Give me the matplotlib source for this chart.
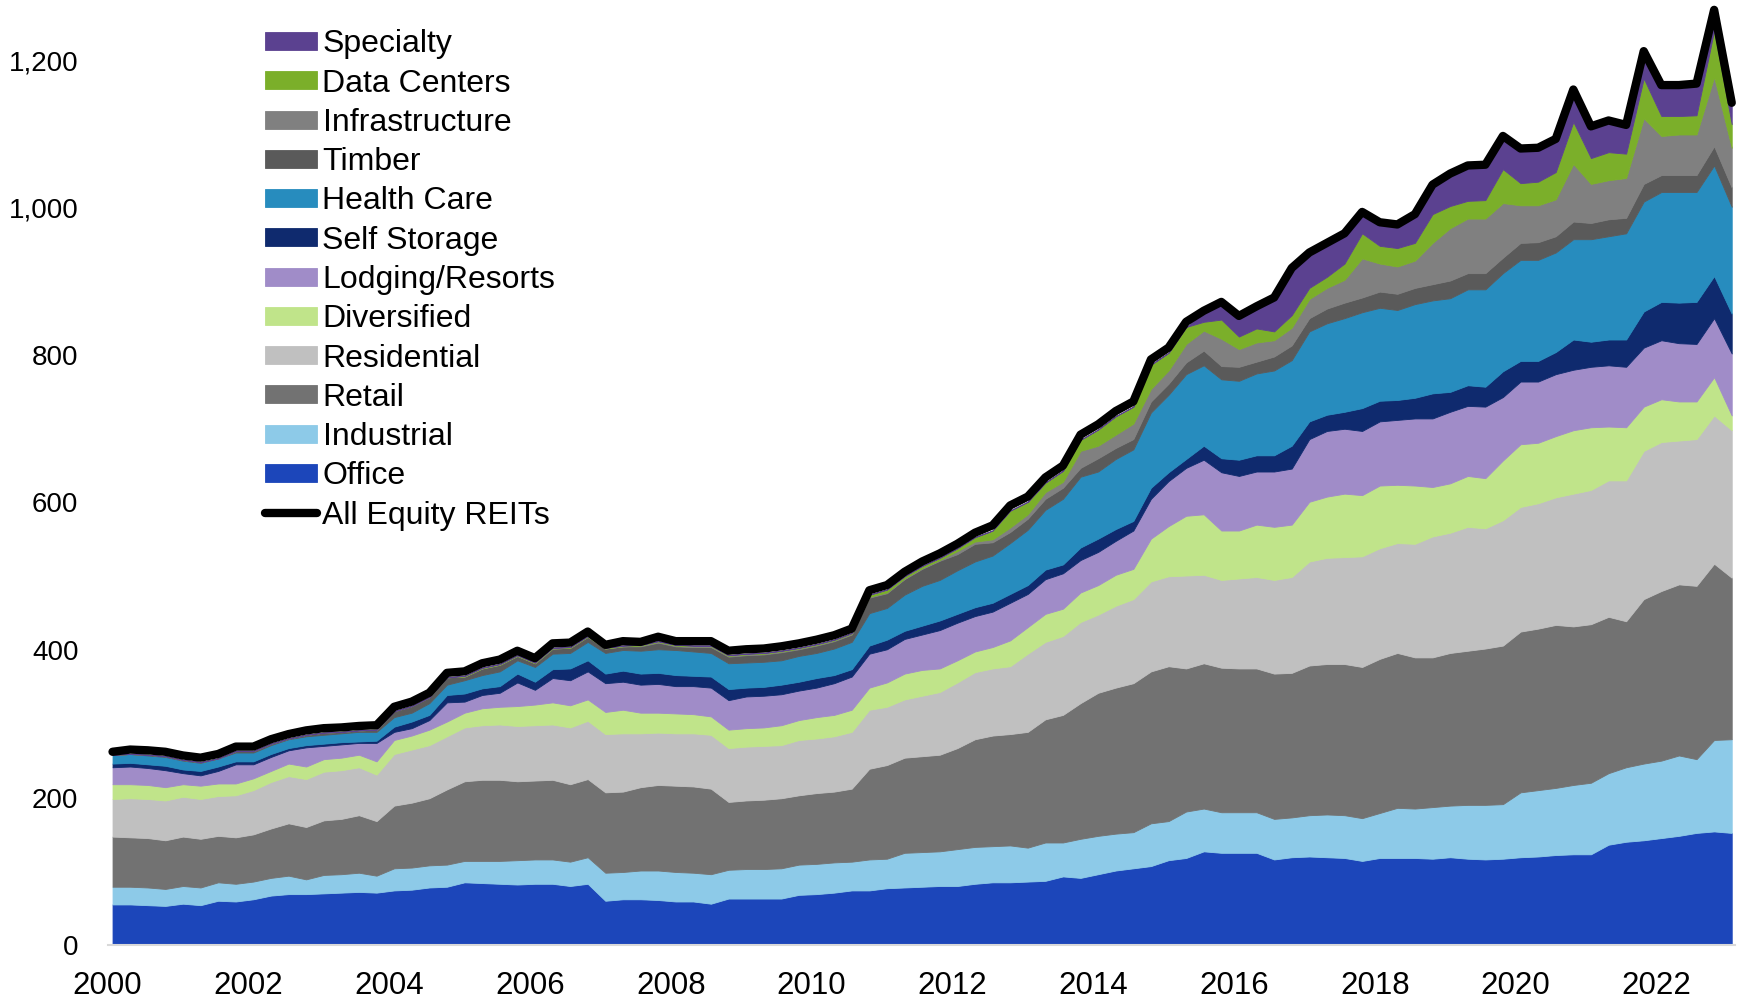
import numpy as np
import pandas as pd
import matplotlib
matplotlib.use("Agg")
import matplotlib.pyplot as plt
from matplotlib.ticker import FuncFormatter, FixedLocator
from matplotlib.lines import Line2D

plt.rcParams['font.family'] = ['Liberation Sans', 'DejaVu Sans']

# ---------------- data (quarterly, 2000Q1 .. 2023Q1) ----------------
quarters = pd.period_range('2000Q1', '2023Q1', freq='Q')

office = [55,55,54,53,56,54,60,59,62,67, 69,69,70,71,72,71,74,75,78,79,
          85,84,83,82,83,83,80,83,60,62, 62,61,59,59,56,63,63,63,63,68,
          69,71,74,74,77,78,79,80,80,83, 85,85,86,87,93,91,96,101,104,107,
          115,118,127,125,125,125,116,119,120,119, 118,114,118,118,118,117,119,117,116,117,
          119,120,122,123,123,136,140,142,145,148, 152,154,152]
industrial = [24,24,24,23,24,24,25,24,24,24, 25,20,25,25,26,23,30,30,30,30,
              29,30,31,33,33,33,33,36,38,37, 39,40,40,39,40,39,40,40,41,41,
              41,41,39,42,40,47,47,47,50,50, 49,50,46,52,46,53,52,50,49,58,
              53,63,58,55,55,55,55,54,56,58, 58,58,61,68,67,70,70,73,74,74,
              88,90,91,94,97,97,101,104,105,109, 100,124,127]
retail = [68,67,67,66,67,66,63,63,64,67, 71,71,74,75,78,74,85,88,91,102,
          108,110,110,107,107,108,105,106,109,109, 113,116,117,117,116,92,93,94,95,94,
          96,96,99,123,127,129,130,131,137,146, 150,151,157,167,173,184,194,198,202,206,
          210,194,197,196,195,195,197,196,203,204, 205,205,209,210,205,203,207,209,212,215,
          218,219,221,215,215,212,198,223,230,232, 235,239,219]
residential = [51,53,53,54,54,54,54,57,60,63, 64,65,66,66,65,63,70,72,72,72,
               73,74,75,75,75,75,77,79,79,79, 73,71,71,72,73,73,73,73,72,75,
               74,75,77,80,79,79,82,85,89,91, 91,92,106,105,107,110,106,111,114,122,
               122,126,120,119,122,124,127,130,141,144, 145,150,150,149,154,164,163,168,163,170,
               169,170,173,180,182,185,191,201,202,195, 199,201,200]
diversified = [20,19,19,18,17,18,17,16,16,15, 17,17,17,17,17,18,19,19,21,20,
               20,23,24,27,28,30,30,29,30,32, 28,27,27,26,25,25,25,25,27,27,
               29,29,30,30,33,35,35,32,30,28, 29,35,36,38,37,40,40,42,41,58,
               68,81,82,67,65,71,72,71,81,83, 86,83,85,79,79,67,67,69,68,81,
               85,82,83,86,85,73,72,60,58,53, 51,52,20]
lodging = [23,24,23,23,15,14,17,26,19,19, 18,26,18,18,16,25,11,10,13,26,
           15,18,19,32,20,33,34,38,39,38, 38,39,37,38,39,40,43,43,42,40,
           40,43,45,46,45,47,48,52,51,48, 48,51,45,47,48,44,45,46,52,54,
           61,65,74,79,74,72,75,76,85,89, 88,87,87,88,91,93,97,95,97,86,
           85,83,84,82,82,83,82,80,80,79, 78,80,84]
self_storage = [5,5,5,6,5,6,6,4,4,4, 3,3,3,3,2,3,7,9,7,10,
                11,9,9,12,11,12,16,15,13,15, 15,15,15,14,15,15,12,12,13,12,
                13,11,10,11,13,11,12,13,12,12, 12,12,12,13,12,17,18,16,13,15,
                12,12,19,19,22,22,22,31,24,22, 23,31,28,27,28,34,27,28,27,35,
                28,28,30,41,34,35,37,49,52,55, 57,57,54]
health_care = [12,12,12,12,12,11,11,12,12,12, 12,12,12,12,13,12,13,12,16,14,
               18,18,20,18,20,21,21,25,28,28, 31,32,34,33,32,35,34,34,33,35,
               34,36,37,44,43,49,54,55,59,62, 64,69,75,81,89,96,91,95,97,102,
               105,115,109,107,107,111,115,116,122,124, 127,130,126,122,127,126,127,130,132,133,
               137,137,135,136,139,140,144,149,149,150, 149,150,145]
timber = [0,0,1,1,1,1,0,2,2,2, 1,2,3,2,2,3,8,9,8,10,
          5,9,9,6,5,7,7,7,6,5, 6,9,5,6,8,9,10,10,11,9,
          10,10,10,21,20,21,23,26,22,24, 18,15,15,15,15,12,18,15,14,15,
          15,16,20,18,19,16,19,20,18,20, 21,20,22,22,22,22,24,22,22,21,
          23,24,22,24,22,23,21,24,23,23, 23,26,26]
infrastructure = [0,0,0,0,0,0,0,0,0,0, 0,0,0,0,0,0,0,0,0,0,
                  0,0,0,0,0,0,0,0,0,0, 1,1,1,1,1,1,1,1,1,1,
                  1,1,1,1,1,1,1,1,4,3, 4,6,6,9,8,23,17,18,21,17,
                  18,25,27,37,24,26,22,24,26,28, 31,53,38,37,37,56,71,74,74,74,
                  51,50,50,78,53,53,54,89,53,55, 55,94,54]
data_centers = [0,0,0,0,0,0,0,0,0,0, 0,0,0,0,0,0,0,0,0,0,
                1,1,1,1,1,1,1,1,1,1, 1,1,1,1,1,1,1,1,1,1,
                1,1,1,3,4,3,3,3,4,6, 12,23,17,13,15,15,22,25,23,33,
                24,23,12,26,17,19,12,17,15,15, 22,34,24,25,24,39,30,24,25,46,
                30,32,37,57,35,38,33,54,27,25, 26,63,32]
specialty = [0,0,0,0,0,0,0,0,0,0, 0,0,0,0,0,0,0,0,0,0,
             0,0,0,0,0,0,0,0,0,0, 0,0,0,0,0,0,0,0,0,0,
             0,0,0,0,0,0,0,0,0,0, 0,0,0,0,0,0,0,0,0,0,
             0,0,12,20,25,26,42,60,44,42, 37,25,28,28,35,36,40,44,44,41,
             43,42,41,39,39,39,35,30,38,38, 39,22,25]
all_equity_reits = [262,265,264,262,257,254,259,269,269,279, 286,291,294,295,297,298,323,330,342,369,
                    371,382,387,399,389,409,410,425,407,412, 411,418,412,412,412,399,401,402,405,409,
                    414,420,429,481,488,506,520,531,544,559, 569,596,608,634,650,692,706,724,737,794,
                    810,845,860,872,853,866,878,918,939,952, 965,994,980,977,991,1031,1046,1057,1058,1097,
                    1080,1081,1093,1160,1110,1118,1112,1212,1166,1166, 1168,1268,1142]

labels = ['Office', 'Industrial', 'Retail', 'Residential', 'Diversified',
          'Lodging/Resorts', 'Self Storage', 'Health Care', 'Timber',
          'Infrastructure', 'Data Centers', 'Specialty']
series = [office, industrial, retail, residential, diversified, lodging,
          self_storage, health_care, timber, infrastructure, data_centers, specialty]
colors = ['#1C46BA', '#8DCAE8', '#727272', '#C0C0C0', '#C0E48A', '#A08CC8',
          '#0F2A6E', '#278CBE', '#5A5A5A', '#808080', '#7BAF2A', '#5B4190']

x = np.array([q.year + (q.quarter - 1) / 4 + 0.07 for q in quarters])

# ---------------- figure ----------------
W, H = 1739, 999
fig = plt.figure(figsize=(W / 100, H / 100), dpi=100)
x0, x1 = 2000.0, 2023.12
y0, y1 = 0, 1280
ax_left = 107.6 / W
ax_bottom = 54 / H
ax = fig.add_axes([ax_left, ax_bottom, (x1 - x0) * 70.4 / W, (y1 - y0) * 0.7375 / H])

polys = ax.stackplot(x, *[np.array(s, dtype=float) for s in series],
                     colors=colors, labels=labels, linewidth=0.6)
for p, c in zip(polys, colors):
    p.set_edgecolor(c)

line, = ax.plot(x, all_equity_reits, color='black', lw=6, solid_joinstyle='round',
                solid_capstyle='round', zorder=5, clip_on=False, label='All Equity REITs')

ax.set_xlim(x0, x1)
ax.set_ylim(y0, y1)

for s in ['top', 'right', 'left']:
    ax.spines[s].set_visible(False)
ax.spines['bottom'].set_color('#D9D9D9')
ax.spines['bottom'].set_linewidth(1.5)

ax.xaxis.set_major_locator(FixedLocator(list(range(2000, 2023, 2))))
ax.yaxis.set_major_locator(FixedLocator(list(range(0, 1201, 200))))
ax.xaxis.set_major_formatter(FuncFormatter(lambda v, p: f"{int(round(v))}"))
ax.yaxis.set_major_formatter(FuncFormatter(lambda v, p: f"{int(v):,}"))
ax.tick_params(axis='x', length=0, pad=18.5, labelsize=22.5, colors='black')
ax.tick_params(axis='y', length=0, pad=21, labelsize=20, colors='black')

# legend
handles = list(polys[::-1]) + [Line2D([0], [0], color='black', lw=6, solid_capstyle='round')]
leg_labels = labels[::-1] + ['All Equity REITs']
fs = 23
leg = fig.legend(handles, leg_labels, loc='upper left',
                 bbox_to_anchor=(265 / W, 1 - 29.4 / H), bbox_transform=fig.transFigure,
                 frameon=False, fontsize=fs, borderpad=0, borderaxespad=0,
                 handlelength=1.63, handleheight=0.49, handletextpad=0.17,
                 labelspacing=0.29)

fig.savefig('out.png', dpi=100)
